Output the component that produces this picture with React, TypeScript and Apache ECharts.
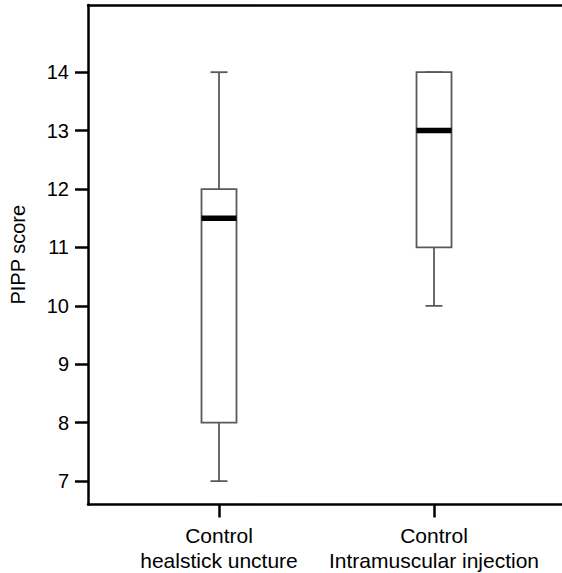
import React, { useEffect, useRef } from "react";
import * as echarts from "echarts";

const categories = ["Control\nhealstick uncture", "Control\nIntramuscular injection"];
const positions = [1, 2];
const whiskerLow = [7, 10];
const q1 = [8, 11];
const median = [11.5, 13];
const q3 = [12, 14];
const whiskerHigh = [14, 14];
const yTicks = [7, 8, 9, 10, 11, 12, 13, 14];

const FONT = "'Liberation Sans', Arial, sans-serif";

export default function App() {
  const ref = useRef<HTMLDivElement>(null);
  useEffect(() => {
    if (!ref.current) return;
    const chart = echarts.init(ref.current, null, { renderer: "svg" });
    const data = positions.map((p, i) => [p, whiskerLow[i], q1[i], median[i], q3[i], whiskerHigh[i]]);
    const xMin = 0.3907;
    const xMax = 2.5953;
    const boxW = 35;
    const capW = 17;
    const grey = "#5a5a5a";
    chart.setOption({
      animation: false,
      backgroundColor: "#ffffff",
      grid: { left: 88, right: 0, top: 5, bottom: 68.5 },
      xAxis: [
        {
          type: "value",
          min: xMin,
          max: xMax,
          position: "bottom",
          axisLine: { show: true, onZero: false, lineStyle: { color: "#000", width: 2.5 } },
          axisTick: { show: true, customValues: positions, length: 13, lineStyle: { color: "#000", width: 2.5 } },
          axisLabel: {
            show: true,
            customValues: positions,
            formatter: (v: number) => categories[Math.round(v) - 1] ?? "",
            color: "#000",
            fontSize: 21,
            fontFamily: FONT,
            lineHeight: 25,
            margin: 18,
          },
          splitLine: { show: false },
        },
        {
          type: "value",
          min: xMin,
          max: xMax,
          position: "top",
          axisLine: { show: true, onZero: false, lineStyle: { color: "#000", width: 2.5 } },
          axisTick: { show: false },
          axisLabel: { show: false },
          splitLine: { show: false },
        },
      ],
      yAxis: {
        type: "value",
        min: 6.6,
        max: 15.15,
        name: "PIPP score",
        nameLocation: "middle",
        nameGap: 60,
        nameTextStyle: { color: "#000", fontSize: 20, fontFamily: FONT },
        axisLine: { show: true, onZero: false, lineStyle: { color: "#000", width: 2.5 } },
        axisTick: { show: true, customValues: yTicks, length: 13, lineStyle: { color: "#000", width: 2.5 } },
        axisLabel: {
          show: true,
          customValues: yTicks,
          color: "#000",
          fontSize: 20,
          fontFamily: FONT,
          margin: 19,
        },
        splitLine: { show: false },
      },
      series: [
        {
          type: "custom",
          xAxisIndex: 0,
          yAxisIndex: 0,
          data,
          renderItem: (params: any, api: any) => {
            const x = api.value(0);
            const pLow = api.coord([x, api.value(1)]);
            const pQ1 = api.coord([x, api.value(2)]);
            const pMed = api.coord([x, api.value(3)]);
            const pQ3 = api.coord([x, api.value(4)]);
            const pHigh = api.coord([x, api.value(5)]);
            const cx = pLow[0];
            const lineStyle = { stroke: grey, lineWidth: 1.8, fill: "none" };
            return {
              type: "group",
              children: [
                { type: "line", shape: { x1: cx, y1: pLow[1], x2: cx, y2: pQ1[1] }, style: lineStyle },
                { type: "line", shape: { x1: cx, y1: pQ3[1], x2: cx, y2: pHigh[1] }, style: lineStyle },
                { type: "line", shape: { x1: cx - capW / 2, y1: pLow[1], x2: cx + capW / 2, y2: pLow[1] }, style: lineStyle },
                { type: "line", shape: { x1: cx - capW / 2, y1: pHigh[1], x2: cx + capW / 2, y2: pHigh[1] }, style: lineStyle },
                {
                  type: "rect",
                  shape: { x: cx - boxW / 2, y: pQ3[1], width: boxW, height: pQ1[1] - pQ3[1] },
                  style: { stroke: grey, lineWidth: 1.8, fill: "#ffffff" },
                },
                {
                  type: "line",
                  shape: { x1: cx - boxW / 2, y1: pMed[1], x2: cx + boxW / 2, y2: pMed[1] },
                  style: { stroke: "#000", lineWidth: 5.5 },
                },
              ],
            };
          },
        },
      ],
    });
    return () => chart.dispose();
  }, []);
  return <div ref={ref} style={{ width: 562, height: 573, position: "absolute", left: 0, top: 0 }} />;
}
